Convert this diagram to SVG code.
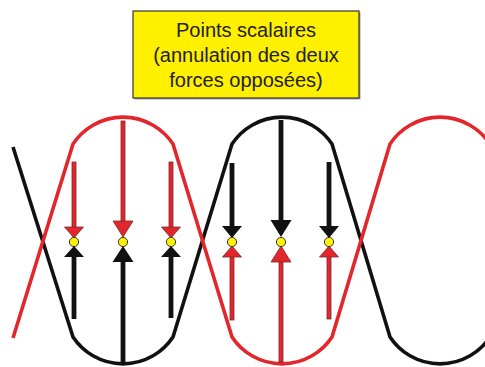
<svg xmlns="http://www.w3.org/2000/svg" width="485" height="367" viewBox="0 0 485 367">
<style>
.wave{fill:none;stroke-width:3.6;stroke-linejoin:round}
.blk{stroke:#111111}
.red{stroke:#E3262B}
.rs{fill:#E3262B;stroke:#7a2b2b;stroke-width:0.8}
.bs{fill:#111111}
.pt{fill:#FFF200;stroke:#333333;stroke-width:1}
.lbl{font-family:"Liberation Sans",Arial,sans-serif;font-size:20px;fill:#222222;text-anchor:middle}
</style>
<rect width="485" height="367" fill="#ffffff"/>
<g id="label">
<rect x="134.5" y="12.5" width="226" height="87" fill="#a0a0a0"/>
<rect x="133" y="11" width="226" height="87" fill="#FFF000" stroke="#333333" stroke-width="1.2"/>
<text class="lbl" x="246" y="37">Points scalaires</text>
<text class="lbl" x="246" y="62">(annulation des deux</text>
<text class="lbl" x="246" y="87">forces opposées)</text>
</g>
<g id="waves">
<path class="wave blk" d="M13,147 L73,337 A60,60 0 0 0 173,337 L232,144 A60,60 0 0 1 332,144 L390,337 A60,60 0 0 0 490,337"/>
<path class="wave red" d="M13,338 L73,144 A60,60 0 0 1 173,144 L232,337 A60,60 0 0 0 332,337 L390,144 A60,60 0 0 1 490,144"/>
</g>
<g id="arrows">
<!-- col 1 -->
<rect class="rs" x="72" y="162" width="4" height="66"/>
<polygon class="rs" points="64.5,227 83.5,227 74,238"/>
<rect class="bs" x="71.6" y="256" width="4.8" height="63"/>
<polygon class="bs" points="64,257 84,257 74,246"/>
<circle class="pt" cx="74" cy="242" r="4.6"/>
<!-- col 2 -->
<rect class="rs" x="121" y="121" width="4" height="102"/>
<polygon class="rs" points="113,221 133,221 123,237"/>
<rect class="bs" x="120.6" y="260" width="4.8" height="102"/>
<polygon class="bs" points="112.5,262 133.5,262 123,246"/>
<circle class="pt" cx="123" cy="242" r="4.6"/>
<!-- col 3 -->
<rect class="rs" x="169" y="162" width="4" height="66"/>
<polygon class="rs" points="161.5,227 180.5,227 171,238"/>
<rect class="bs" x="168.6" y="256" width="4.8" height="62"/>
<polygon class="bs" points="161,257 181,257 171,246"/>
<circle class="pt" cx="171" cy="242" r="4.6"/>
<!-- col 4 -->
<rect class="bs" x="229.6" y="163" width="4.8" height="64"/>
<polygon class="bs" points="222,226 242,226 232,238"/>
<rect class="rs" x="230" y="256" width="4" height="64"/>
<polygon class="rs" points="222.5,257 241.5,257 232,246"/>
<circle class="pt" cx="232" cy="242" r="4.6"/>
<!-- col 5 -->
<rect class="bs" x="278.6" y="120" width="4.8" height="102"/>
<polygon class="bs" points="270.5,220 291.5,220 281,237"/>
<rect class="rs" x="279" y="260" width="4" height="102"/>
<polygon class="rs" points="271,262 291,262 281,246"/>
<circle class="pt" cx="281" cy="242" r="4.6"/>
<!-- col 6 -->
<rect class="bs" x="326.6" y="162" width="4.8" height="65"/>
<polygon class="bs" points="319,226 339,226 329,238"/>
<rect class="rs" x="327" y="256" width="4" height="63"/>
<polygon class="rs" points="319.5,257 338.5,257 329,246"/>
<circle class="pt" cx="329" cy="242" r="4.6"/>
</g>
</svg>
